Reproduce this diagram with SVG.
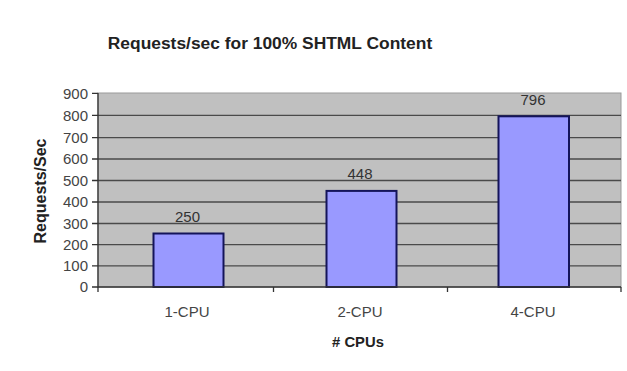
<svg xmlns="http://www.w3.org/2000/svg" width="627" height="371" viewBox="0 0 627 371">
<style>
.t{font-family:"Liberation Sans",Arial,sans-serif;fill:#222}
.title{font-size:17.4px;font-weight:bold;text-anchor:middle}
.ax{font-size:15px;fill:#444}
.yl{text-anchor:end}
.xl{text-anchor:middle}
.at{font-size:14.8px;font-weight:bold;text-anchor:middle}
.dl{font-size:15px;text-anchor:middle;fill:#333}
.grid{stroke:#4a4a4a;stroke-width:1.3}
.axis{stroke:#333;stroke-width:1.3;fill:none}
.bar{fill:#9999ff;stroke:#14145a;stroke-width:2}
</style>
<rect width="627" height="371" fill="#fff"/>
<text class="t title" x="270" y="48.5">Requests/sec for 100% SHTML Content</text>
<g id="plot">
<rect x="98" y="93" width="523" height="194" fill="#c0c0c0" stroke="#9a9a9a" stroke-width="1"/>
<g class="grid">
<line x1="98" y1="115.4" x2="621" y2="115.4"/>
<line x1="98" y1="137.6" x2="621" y2="137.6"/>
<line x1="98" y1="159" x2="621" y2="159"/>
<line x1="98" y1="180.5" x2="621" y2="180.5"/>
<line x1="98" y1="202" x2="621" y2="202"/>
<line x1="98" y1="223.5" x2="621" y2="223.5"/>
<line x1="98" y1="244.6" x2="621" y2="244.6"/>
<line x1="98" y1="265.8" x2="621" y2="265.8"/>
</g>
</g>
<g id="bar-1cpu">
<rect class="bar" x="153.5" y="233.5" width="70" height="53.5"/>
<text class="t dl" x="187.5" y="222">250</text>
</g>
<g id="bar-2cpu">
<rect class="bar" x="326.5" y="190.9" width="70" height="96.1"/>
<text class="t dl" x="360" y="178.5">448</text>
</g>
<g id="bar-4cpu">
<rect class="bar" x="498.5" y="116.3" width="70.5" height="170.7"/>
<text class="t dl" x="533" y="105">796</text>
</g>
<g id="axes">
<path class="axis" d="M98 93 V287 H621"/>
<path class="axis" d="M92 93.3H98M92 115.4H98M92 137.6H98M92 159H98M92 180.5H98M92 202H98M92 223.5H98M92 244.6H98M92 265.8H98M92 287H98"/>
<path class="axis" d="M98 287V292M273.5 287V292M447.5 287V292M621 287V292"/>
</g>
<g id="y-labels" class="t ax yl">
<text x="88" y="98.5">900</text>
<text x="88" y="120.5">800</text>
<text x="88" y="142.5">700</text>
<text x="88" y="164">600</text>
<text x="88" y="185.5">500</text>
<text x="88" y="207">400</text>
<text x="88" y="228.5">300</text>
<text x="88" y="249.5">200</text>
<text x="88" y="271">100</text>
<text x="88" y="292">0</text>
</g>
<g id="x-labels" class="t ax xl">
<text x="187" y="317">1-CPU</text>
<text x="360" y="317">2-CPU</text>
<text x="533" y="317">4-CPU</text>
</g>
<text class="t at" x="358" y="347"># CPUs</text>
<text class="t at" transform="translate(46 191) rotate(-90)" x="0" y="0" style="font-size:16px">Requests/Sec</text>
</svg>
